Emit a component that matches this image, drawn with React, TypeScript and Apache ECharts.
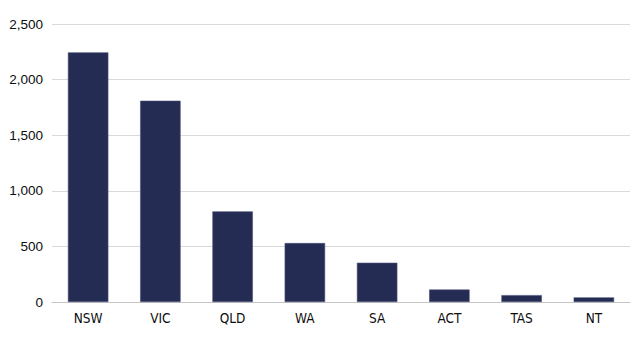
import React, { useEffect, useRef } from "react";
import * as echarts from "echarts";

const categories = ["NSW", "VIC", "QLD", "WA", "SA", "ACT", "TAS", "NT"];
const values = [2245, 1810, 815, 530, 353, 112, 62, 42];
const yMin = 0;
const yMax = 2500;
const yInterval = 500;

export default function App() {
  const ref = useRef<HTMLDivElement>(null);
  useEffect(() => {
    if (!ref.current) return;
    const chart = echarts.init(ref.current, undefined, { renderer: "svg" });
    chart.setOption({
      animation: false,
      grid: { left: 52, right: 11, top: 24, bottom: 55, containLabel: false },
      xAxis: {
        type: "category",
        data: categories,
        axisLine: { show: true, lineStyle: { color: "#c4c4c4", width: 1 } },
        axisTick: { show: false },
        axisLabel: {
          color: "#0d0d0d",
          fontFamily: "'DejaVu Sans Condensed', 'Liberation Sans', Arial, sans-serif",
          fontSize: 13.5,
          margin: 9,
        },
      },
      yAxis: {
        type: "value",
        min: yMin,
        max: yMax,
        interval: yInterval,
        axisLine: { show: false },
        axisTick: { show: false },
        splitLine: { lineStyle: { color: "#dadada", width: 1 } },
        axisLabel: {
          color: "#0d0d0d",
          fontFamily: "'Liberation Sans', Arial, sans-serif",
          fontSize: 13.5,
          margin: 9,
          formatter: (v: number) => v.toLocaleString("en-US"),
        },
      },
      series: [
        {
          type: "bar",
          data: values,
          barWidth: "56%",
          itemStyle: { color: "#252c54", borderColor: "#4b5178", borderWidth: 0.6 },
        },
      ],
    });
    return () => chart.dispose();
  }, []);
  return <div ref={ref} style={{ width: 641, height: 357, position: "absolute", left: 0, top: 0 }} />;
}
